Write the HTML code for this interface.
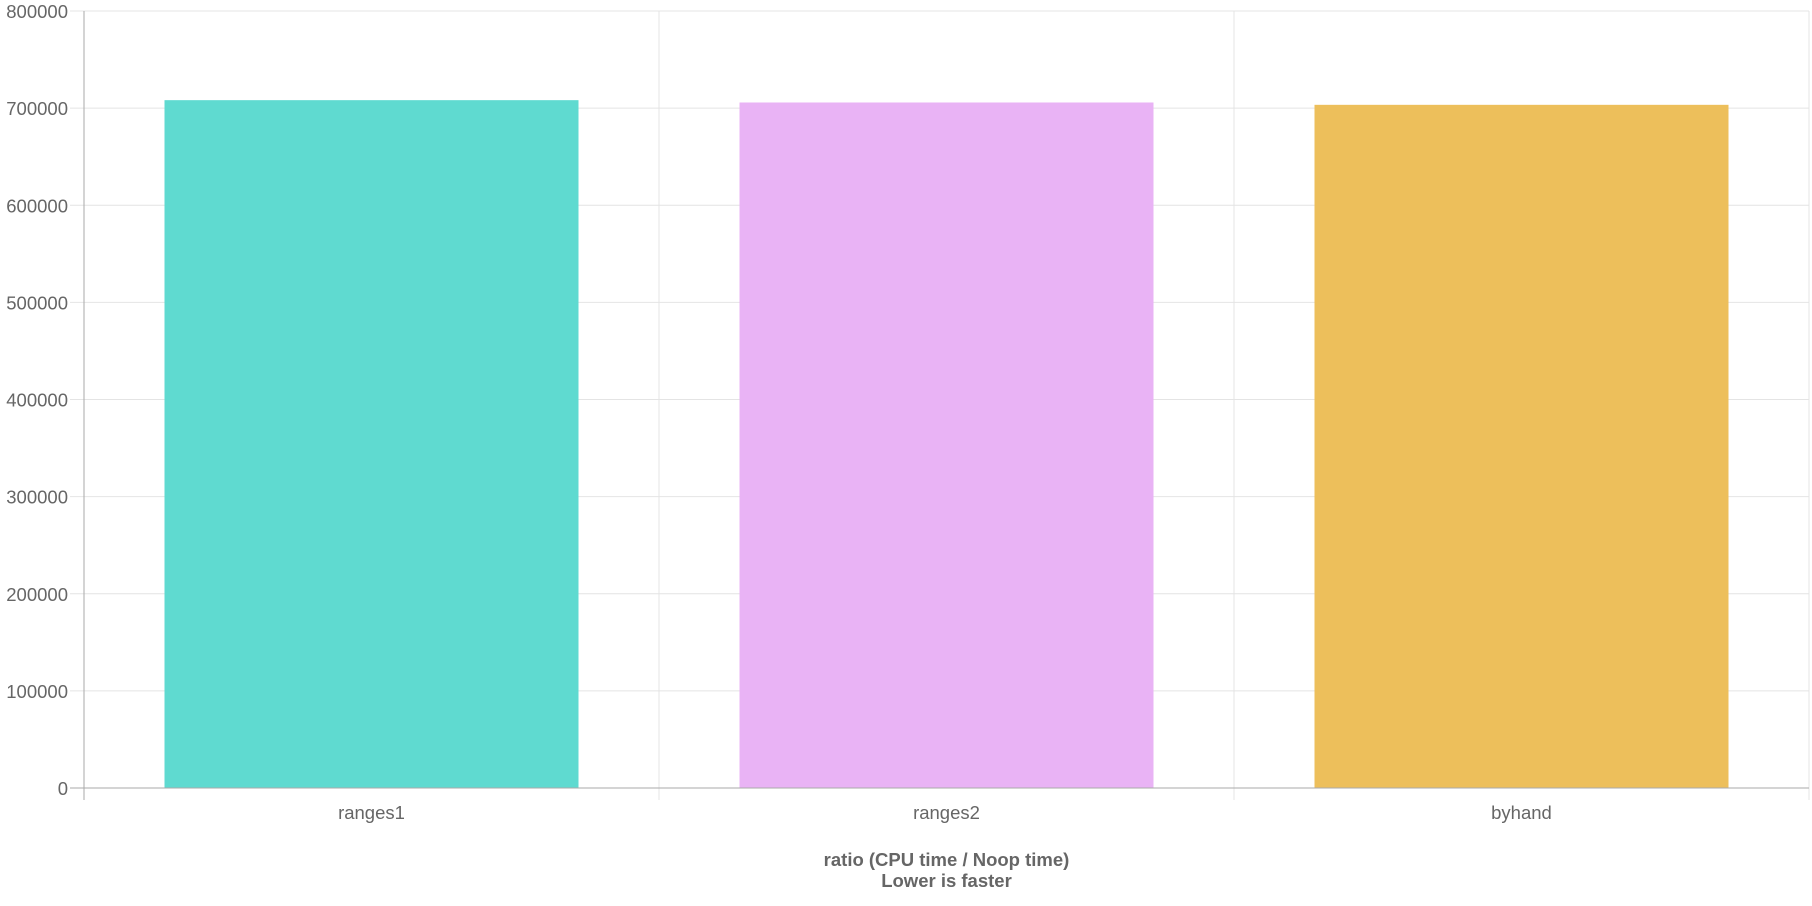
<!DOCTYPE html>
<html><head><meta charset="utf-8"><style>
html,body{margin:0;padding:0;background:#fff;width:1812px;height:906px;overflow:hidden}
svg{display:block;font-family:"Liberation Sans",Arial,sans-serif}
</style></head><body>
<svg id="chart" width="1812" height="906" viewBox="0 0 1812 906"></svg>
<script>
const categories = ["ranges1","ranges2","byhand"];
const values = [708200, 705800, 703400];
const colors = ["#5fdad0","#e9b3f5","#edbf5b"];
const yTicks = [0,100000,200000,300000,400000,500000,600000,700000,800000];
const NS="http://www.w3.org/2000/svg";
const svg=document.getElementById('chart');
const L=84,R=1809,T=11,B=788,yMax=800000;
const y=v=>B-(v/yMax)*(B-T);
const bw=(R-L)/categories.length;
const x=i=>L+bw*i;
function mk(tag,attrs,parent){const e=document.createElementNS(NS,tag);for(const k in attrs)e.setAttribute(k,attrs[k]);(parent||svg).appendChild(e);return e;}
const grid=mk('g',{});


yTicks.forEach(t=>{
  const l=mk('line',{x1:L-14,x2:R,y1:y(t),y2:y(t),stroke:t===0?'#aaa':'#e4e4e4','stroke-width':1},grid);
  
  
  const tx=mk('text',{x:L-16,y:y(t)+7,'text-anchor':'end','font-size':18.5,fill:'#666'});
  tx.textContent=t;
  
  
});
for(let i=0;i<=categories.length;i++){
  const l=mk('line',{x1:x(i),x2:x(i),y1:T,y2:B+12,stroke:i===0?'#aaa':'#e4e4e4','stroke-width':1},grid);
  
  
}
categories.forEach((c,i)=>{
  const w=bw*0.72;
  const r=mk('rect',{x:x(i)+(bw-w)/2,y:y(values[i]),width:w,height:B-y(values[i]),fill:colors[i]});
  
  
  const tx=mk('text',{x:x(i)+bw/2,y:819,'text-anchor':'middle','font-size':18.5,fill:'#666'});
  tx.textContent=c;
  
  
});
const ax=mk('line',{x1:L,x2:R,y1:B,y2:B,stroke:'#aaa'});


const t1=mk('text',{x:(L+R)/2,y:866,'text-anchor':'middle','font-size':18.5,'font-weight':'bold',fill:'#666'});
t1.textContent='ratio (CPU time / Noop time)';


const t2=mk('text',{x:(L+R)/2,y:887,'text-anchor':'middle','font-size':18.5,'font-weight':'bold',fill:'#666'});
t2.textContent='Lower is faster';


</script>
</body></html>
